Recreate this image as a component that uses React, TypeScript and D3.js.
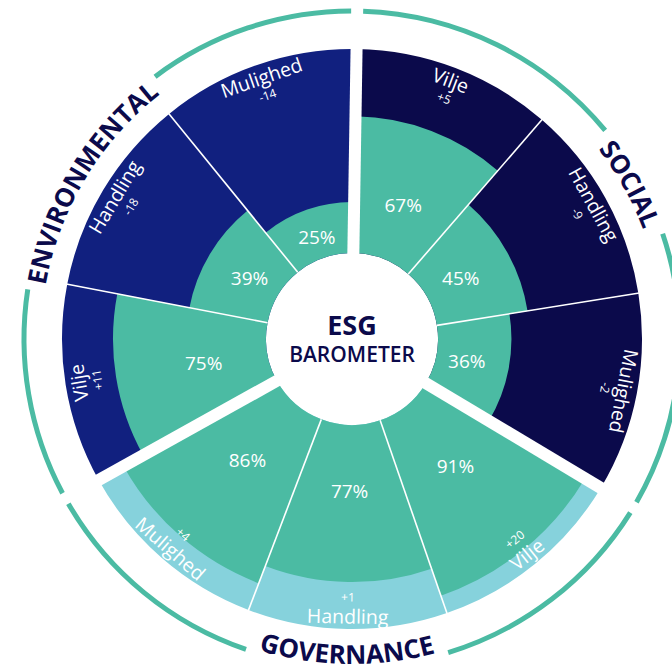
import React, { useEffect, useRef } from "react";
import * as d3 from "d3";

// order: Social, Governance, Environmental (clockwise from top)
const groups = ["SOCIAL", "GOVERNANCE", "ENVIRONMENTAL"];
const categories = ["Vilje", "Handling", "Mulighed"];
const scores = [67, 45, 36, 91, 77, 86, 75, 39, 25];
const changes = [5, -9, -2, 20, 1, 4, 11, -18, -14];

const groupColors = ["#0b0a4b", "#86d2dc", "#11207f"];
const green = "#4bbba3";
const navy = "#0b0a4b";

const width = 672;
const height = 672;
const cx = 352;
const cy = 339;
const innerR = 86;
const outerR = 290;
const ringR = 328;
const offset = (0.9 * Math.PI) / 180; // whole wheel is turned a little

const App = () => {
  const ref = useRef<SVGSVGElement>(null);

  useEffect(() => {
    const svg = d3.select(ref.current);
    svg.selectAll("*").remove();
    const g = svg.append("g").attr("transform", `translate(${cx},${cy})`);

    const rows = scores.map((v, i) => ({
      i,
      group: Math.floor(i / categories.length),
      category: categories[i % categories.length],
      score: v,
      change: changes[i],
    }));

    const angle = d3
      .scaleBand<number>()
      .domain(rows.map((d) => d.i))
      .range([offset, 2 * Math.PI + offset])
      .padding(0);
    const groupAngle = d3
      .scaleBand<number>()
      .domain(groups.map((_, i) => i))
      .range([offset, 2 * Math.PI + offset]);
    const radius = d3.scaleLinear().domain([0, 100]).range([innerR, outerR]);

    const start = (d) => angle(d.i)!;
    const end = (d) => angle(d.i)! + angle.bandwidth();
    const mid = (d) => angle(d.i)! + angle.bandwidth() / 2;

    const bgArc = d3.arc<any>().innerRadius(innerR).outerRadius(outerR).startAngle(start).endAngle(end);
    const scoreArc = d3
      .arc<any>()
      .innerRadius(innerR)
      .outerRadius((d) => radius(d.score))
      .startAngle(start)
      .endAngle(end);

    g.selectAll("path.bg")
      .data(rows)
      .join("path")
      .attr("class", "bg")
      .attr("d", bgArc)
      .attr("fill", (d) => groupColors[d.group]);

    g.selectAll("path.score")
      .data(rows)
      .join("path")
      .attr("class", "score")
      .attr("d", scoreArc)
      .attr("fill", green);

    // thin separators inside a group
    g.selectAll("line.sep")
      .data(rows.filter((d) => d.i % categories.length !== 0))
      .join("line")
      .attr("class", "sep")
      .each(function (d) {
        const [x1, y1] = d3.pointRadial(start(d), innerR);
        const [x2, y2] = d3.pointRadial(start(d), outerR + 1);
        d3.select(this).attr("x1", x1).attr("y1", y1).attr("x2", x2).attr("y2", y2);
      })
      .attr("stroke", "#fff")
      .attr("stroke-width", 1.6);

    // wide gaps between groups
    g.selectAll("line.gap")
      .data(groups.map((_, i) => i))
      .join("line")
      .attr("class", "gap")
      .each(function (d) {
        const [x1, y1] = d3.pointRadial(groupAngle(d)!, innerR - 4);
        const [x2, y2] = d3.pointRadial(groupAngle(d)!, outerR + 4);
        d3.select(this).attr("x1", x1).attr("y1", y1).attr("x2", x2).attr("y2", y2);
      })
      .attr("stroke", "#fff")
      .attr("stroke-width", 12);

    const font = "'Open Sans', sans-serif";
    const deg = (a) => (a * 180) / Math.PI;
    const rot = (a) => {
      const dg = deg(a);
      return dg > 120 && dg < 240 ? dg - 180 : dg;
    };

    // percentage labels
    g.selectAll("text.pct")
      .data(rows)
      .join("text")
      .attr("class", "pct")
      .attr("transform", (d) => {
        const r = innerR + (radius(d.score) - innerR) * 0.42;
        const [x, y] = d3.pointRadial(mid(d), r);
        return `translate(${x},${y})`;
      })
      .attr("text-anchor", "middle")
      .attr("dominant-baseline", "central")
      .attr("fill", "#fff")
      .attr("font-family", font)
      .attr("font-size", 19)
      .text((d) => `${d.score}%`);

    // category names
    g.selectAll("text.cat")
      .data(rows)
      .join("text")
      .attr("class", "cat")
      .attr("transform", (d) => {
        const [x, y] = d3.pointRadial(mid(d), 277);
        return `translate(${x},${y}) rotate(${rot(mid(d))})`;
      })
      .attr("text-anchor", "middle")
      .attr("dominant-baseline", "central")
      .attr("fill", "#fff")
      .attr("font-family", font)
      .attr("font-size", 19.5)
      .text((d) => d.category);

    // change labels
    g.selectAll("text.chg")
      .data(rows)
      .join("text")
      .attr("class", "chg")
      .attr("transform", (d) => {
        const [x, y] = d3.pointRadial(mid(d), 258);
        return `translate(${x},${y}) rotate(${rot(mid(d))})`;
      })
      .attr("text-anchor", "middle")
      .attr("dominant-baseline", "central")
      .attr("fill", "#fff")
      .attr("font-family", font)
      .attr("font-size", 12)
      .text((d) => (d.change > 0 ? `+${d.change}` : `${d.change}`));

    // outer ring with group titles
    const padA = 6 / ringR;
    groups.forEach((name, gi) => {
      const a0 = groupAngle(gi)!;
      const a1 = a0 + groupAngle.bandwidth();
      const am = (a0 + a1) / 2;
      const bottom = deg(am) > 90 && deg(am) < 270;
      const pr = bottom ? 325 : 311;
      const p0 = d3.pointRadial(bottom ? am + 1.45 : am - 1.45, pr);
      const p1 = d3.pointRadial(bottom ? am - 1.45 : am + 1.45, pr);
      const id = `ring-path-${gi}`;
      g.append("path")
        .attr("id", id)
        .attr("fill", "none")
        .attr("d", `M${p0[0]},${p0[1]} A${pr},${pr} 0 0 ${bottom ? 0 : 1} ${p1[0]},${p1[1]}`);
      const label = g
        .append("text")
        .attr("fill", navy)
        .attr("font-family", font)
        .attr("font-weight", 700)
        .attr("font-size", 26)
        .attr("text-anchor", "middle");
      label
        .append("textPath")
        .attr("href", `#${id}`)
        .attr("startOffset", "50%")
        .text(name);
      const len = (label.node() as SVGTextElement).getComputedTextLength();
      const half = (len / 2 + 13) / ringR;
      const ring = d3.arc().innerRadius(ringR - 2.5).outerRadius(ringR + 2.5);
      [
        [a0 + padA, am - half],
        [am + half, a1 - padA],
      ].forEach(([s, e]) => {
        g.insert("path", "text")
          .attr("d", ring({ startAngle: s, endAngle: e } as any))
          .attr("fill", green);
      });
    });

    // centre title
    g.append("text")
      .attr("y", -15)
      .attr("text-anchor", "middle")
      .attr("dominant-baseline", "central")
      .attr("fill", navy)
      .attr("font-family", font)
      .attr("font-weight", 700)
      .attr("font-size", 27)
      .text("ESG");
    g.append("text")
      .attr("y", 15)
      .attr("text-anchor", "middle")
      .attr("dominant-baseline", "central")
      .attr("fill", navy)
      .attr("font-family", font)
      .attr("font-weight", 600)
      .attr("font-size", 21)
      .text("BAROMETER");
  }, []);

  return (
    <svg
      ref={ref}
      width={width}
      height={height}
      style={{ position: "absolute", left: 0, top: 0, background: "#fff" }}
    ></svg>
  );
};

export default App;
